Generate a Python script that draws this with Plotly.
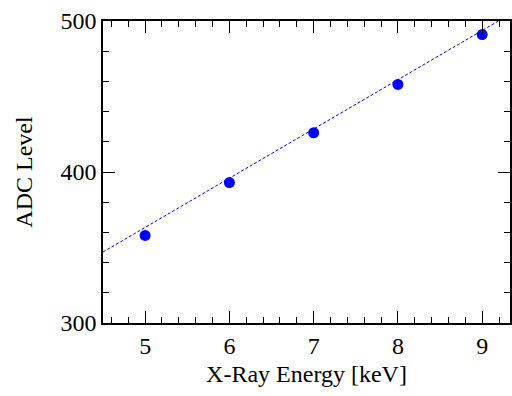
import plotly.graph_objects as go

# Data
energy_kev = [5, 6, 7, 8, 9]
adc_level = [358, 393, 426, 458, 491]

# Fitted line: endpoints in data units
fit_x = [4.5, 9.33]
fit_y = [347, 504.5]

x_tickvals = [5, 6, 7, 8, 9]
y_tickvals = [300, 400, 500]

font_family = "Liberation Serif, Times New Roman, serif"

fig = go.Figure()
fig.add_trace(go.Scatter(
    x=fit_x, y=fit_y, mode="lines",
    line=dict(color="#0000ff", width=1, dash="3px,2px"),
    showlegend=False, hoverinfo="skip"))
fig.add_trace(go.Scatter(
    x=energy_kev, y=adc_level, mode="markers",
    marker=dict(color="#0000ff", size=11, symbol="circle"),
    showlegend=False))

axis_common = dict(
    showline=True, linecolor="black", linewidth=1.5, mirror="allticks",
    ticks="inside", ticklen=12, tickwidth=1.2, tickcolor="black",
    showgrid=False, zeroline=False, automargin=False,
    tickfont=dict(family=font_family, size=24, color="black"),
)

fig.update_xaxes(
    range=[4.5, 9.33], tickvals=x_tickvals,
    minor=dict(dtick=0.2, tick0=0, ticklen=6, ticks="inside", tickcolor="black", tickwidth=1.2),
    title=dict(text="X-Ray Energy [keV]", font=dict(family=font_family, size=24, color="black"), standoff=8),
    **axis_common)
fig.update_yaxes(
    range=[300, 500], tickvals=y_tickvals,
    minor=dict(dtick=20, tick0=0, ticklen=6, ticks="inside", tickcolor="black", tickwidth=1.2),
    title=dict(text="ADC Level", font=dict(family=font_family, size=24, color="black"), standoff=21),
    **axis_common)

fig.update_layout(
    width=512, height=396,
    margin=dict(l=103, r=2, t=21, b=73),
    plot_bgcolor="white", paper_bgcolor="white",
    font=dict(family=font_family, color="black"),
)

fig.write_html(
    "out.html",
    config={"displayModeBar": False, "responsive": False},
    default_width="512px", default_height="396px",
    post_script="document.body.style.margin='0';document.body.style.overflow='hidden';",
)
